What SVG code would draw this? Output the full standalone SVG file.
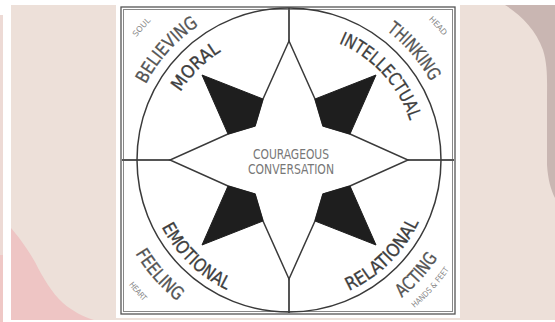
<svg xmlns="http://www.w3.org/2000/svg" width="555" height="322" viewBox="0 0 555 322">
<defs>
<style>
.ln{fill:none;stroke:#3a3a3a;stroke-width:1.5}
.ax{fill:none;stroke:#555;stroke-width:2}
.kite{fill:#1e1e1e;stroke:#1e1e1e;stroke-width:1}
.t{font-family:"DejaVu Sans Condensed","Liberation Sans Narrow","Liberation Sans",sans-serif;font-stretch:condensed;text-anchor:middle}
.inner{font-size:18px;fill:#3e3e3e;stroke:#3e3e3e;stroke-width:0.3}
.outer{font-size:18px;fill:#555;stroke:#555;stroke-width:0.3}
.tiny{font-size:8px;fill:#888}
.mid{font-size:14.5px;fill:#777}
</style>
<path id="pMoral" d="M161.5,148.8 A128,128 0 0 1 277.8,32.5"/>
<path id="pIntel" d="M305.6,34.1 A127,127 0 0 1 415.9,154.5"/>
<path id="pEmo" d="M145.8,175 A144,144 0 0 0 279,303.7"/>
<path id="pRel" d="M300.3,303.6 A144,144 0 0 0 432.3,173.8"/>
<path id="pBel" d="M127.1,154.3 A162,162 0 0 1 266.5,-0.4"/>
<path id="pThi" d="M314.3,0 A162,162 0 0 1 451,157.2"/>
<path id="pFee" d="M109.1,164.7 A180,180 0 0 0 262.4,338"/>
<path id="pAct" d="M313.8,336.3 A178,178 0 0 0 466.9,166.2"/>
<path id="pSoul" d="M93.1,153.2 A196,196 0 0 1 261.7,-34.1"/>
<path id="pHead" d="M316.6,-36.1 A198,198 0 0 1 486.9,153.1"/>
<path id="pHeart" d="M86,163.5 A203,203 0 0 0 257.3,360.5"/>
<path id="pHands" d="M315.9,352.1 A194,194 0 0 0 482.9,166.8"/>
</defs>
<g id="background">
<rect x="0" y="0" width="555" height="322" fill="#ffffff"/>
<rect x="11" y="5" width="544" height="315" fill="#ede0d9"/>
<rect x="0" y="15" width="3" height="307" fill="#eddad5"/>
<rect x="0" y="255" width="3" height="67" fill="#efc8c6"/>
<path d="M11,228 C18,236 27,248 35,262 C43,278 52,293 63,303 C72,311 84,317 94,320 L11,320 Z" fill="#eec5c4"/>
<path d="M505,5 C521,15 536,30 543,50 C548,66 547,82 547,100 L547,165 C548,180 551,190 555,198 L555,5 Z" fill="#c9b6b2"/>
<rect x="116" y="0" width="344" height="318" fill="#ffffff"/>
</g>
<g id="frame">
<rect x="121" y="7" width="334" height="307" fill="none" stroke="#555" stroke-width="1.3"/>
<rect x="123.5" y="9.5" width="329" height="302" fill="none" stroke="#888" stroke-width="1"/>
</g>
<g id="connectors">
<line class="ax" x1="289" y1="8" x2="289" y2="313"/>
<line class="ax" x1="122" y1="160" x2="454" y2="160"/>
<circle class="ln" cx="289" cy="160" r="152"/>
</g>
<g id="star">
<polygon class="ln" style="fill:#fff" points="289,41 315,99 323,126 350,134 408,160 350,186 323,194 315,221 289,279 263,221 255,194 228,186 170,160 228,134 255,126 263,99"/>
<polygon class="kite" points="315,99 376,75 350,134 323,126"/>
<polygon class="kite" points="350,186 376,245 315,221 323,194"/>
<polygon class="kite" points="263,221 202,245 228,186 255,194"/>
<polygon class="kite" points="228,134 202,75 263,99 255,126"/>
</g>
<g id="center">
<text class="t mid" x="291" y="159" textLength="76" lengthAdjust="spacingAndGlyphs">COURAGEOUS</text>
<text class="t mid" x="291" y="174" textLength="86" lengthAdjust="spacingAndGlyphs">CONVERSATION</text>
</g>
<g id="moral"><text class="t inner"><textPath href="#pMoral" startOffset="50%" textLength="58" lengthAdjust="spacingAndGlyphs">MORAL</textPath></text></g>
<g id="intellectual"><text class="t inner"><textPath href="#pIntel" startOffset="50%" textLength="108" lengthAdjust="spacingAndGlyphs">INTELLECTUAL</textPath></text></g>
<g id="emotional"><text class="t inner"><textPath href="#pEmo" startOffset="50%" textLength="92" lengthAdjust="spacingAndGlyphs">EMOTIONAL</textPath></text></g>
<g id="relational"><text class="t inner"><textPath href="#pRel" startOffset="50%" textLength="100" lengthAdjust="spacingAndGlyphs">RELATIONAL</textPath></text></g>
<g id="believing"><text class="t outer"><textPath href="#pBel" startOffset="50%" textLength="80" lengthAdjust="spacingAndGlyphs">BELIEVING</textPath></text></g>
<g id="thinking"><text class="t outer"><textPath href="#pThi" startOffset="50%" textLength="68" lengthAdjust="spacingAndGlyphs">THINKING</textPath></text></g>
<g id="feeling"><text class="t outer"><textPath href="#pFee" startOffset="50%" textLength="64" lengthAdjust="spacingAndGlyphs">FEELING</textPath></text></g>
<g id="acting"><text class="t outer"><textPath href="#pAct" startOffset="50%" textLength="54" lengthAdjust="spacingAndGlyphs">ACTING</textPath></text></g>
<g id="soul"><text class="t tiny"><textPath href="#pSoul" startOffset="50%" textLength="22" lengthAdjust="spacingAndGlyphs">SOUL</textPath></text></g>
<g id="head"><text class="t tiny"><textPath href="#pHead" startOffset="50%" textLength="22" lengthAdjust="spacingAndGlyphs">HEAD</textPath></text></g>
<g id="heart"><text class="t tiny"><textPath href="#pHeart" startOffset="50%" textLength="22" lengthAdjust="spacingAndGlyphs">HEART</textPath></text></g>
<g id="hands"><text class="t tiny"><textPath href="#pHands" startOffset="50%" textLength="52" lengthAdjust="spacingAndGlyphs">HANDS &amp; FEET</textPath></text></g>
</svg>
